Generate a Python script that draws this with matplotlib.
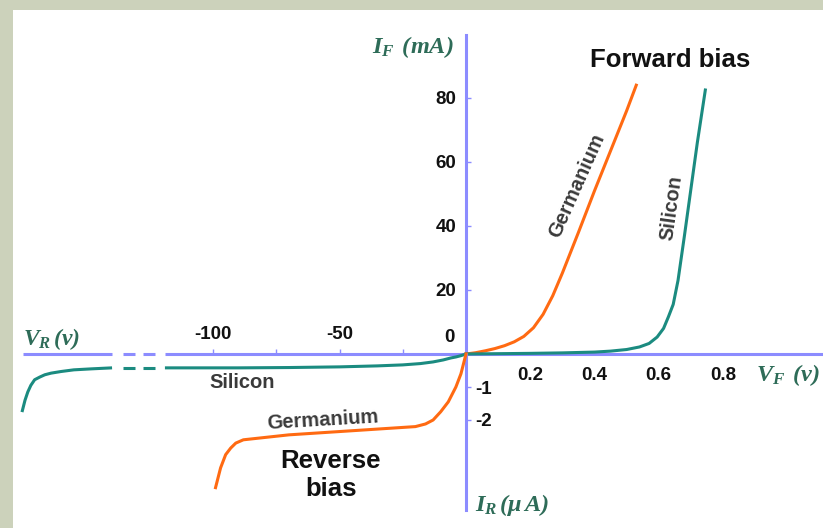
import matplotlib
matplotlib.use("Agg")
import matplotlib.pyplot as plt
from matplotlib.patches import Rectangle
import numpy as np

# ---------------- data ----------------
# Forward bias: V_F in volts, I_F in mA
fwd_ge_v = [0, 0.03, 0.06, 0.09, 0.12, 0.15, 0.18, 0.21, 0.24, 0.27, 0.30, 0.35, 0.40, 0.45, 0.50, 0.53]
fwd_ge_i = [0, 0.4, 1.0, 1.7, 2.6, 3.8, 5.5, 8.2, 12.4, 18.2, 25.3, 38, 51, 63.5, 76, 84]

fwd_si_v = [0, 0.1, 0.2, 0.3, 0.4, 0.45, 0.50, 0.54, 0.57, 0.595, 0.615, 0.63, 0.645, 0.66, 0.68, 0.70, 0.72, 0.745]
fwd_si_i = [0, 0.1, 0.2, 0.35, 0.6, 0.9, 1.4, 2.2, 3.3, 5.3, 8.0, 11.6, 15.5, 23, 37, 51.5, 66, 82.5]

# Reverse bias: V_R in volts, I_R in microamps
rev_ge_v = [0, -1, -2, -4, -7, -10, -13, -16, -20, -30, -50, -70, -88, -91, -93, -95, -97, -99]
rev_ge_i = [0, -0.3, -0.6, -1.0, -1.45, -1.75, -2.0, -2.12, -2.2, -2.25, -2.35, -2.45, -2.6, -2.7, -2.85, -3.05, -3.45, -4.05]

rev_si_v = [0, -2, -4, -6, -9, -13, -18, -25, -35, -50, -70, -90, -110, -119, -122.9, -127.7,
            -130.8, -135.6, -139.9, -148, -155, -160, -164, -166.5, -168.5, -170.5, -172, -173.2, -174.3, -175.5]
rev_si_i = [0, -0.05, -0.09, -0.12, -0.18, -0.24, -0.29, -0.33, -0.36, -0.39, -0.41, -0.42, -0.42, -0.42, -0.42, -0.42,
            -0.42, -0.42, -0.42, -0.45, -0.48, -0.53, -0.58, -0.63, -0.70, -0.78, -0.95, -1.15, -1.4, -1.76]

# broken reverse-voltage axis: drawn pieces
rev_axis_segments = [(-175.1, -139.9), (-135.6, -130.8), (-127.7, -122.9), (-119.0, 0.0)]

fwd_xticks = [0.2, 0.4, 0.6, 0.8]
fwd_xticklabels = ["0.2", "0.4", "0.6", "0.8"]
fwd_yticks = [20, 40, 60, 80]
fwd_yticklabels = ["20", "40", "60", "80"]
rev_xticks = [-100, -75, -50, -25]
rev_xticklabels = ["-100", "", "-50", ""]
rev_yticks = [-1, -2]
rev_yticklabels = ["-1", "-2"]

# ---------------- style ----------------
W, H, DPI = 823, 528, 100
SAGE = "#ccd2bb"
AXC = "#8c8cff"
TEAL = "#1b8b80"
ORANGE = "#ff6a12"
LABC = "#2e6c58"
TXT = "#3a3a3a"
LW = 2.2

plt.rcParams["font.family"] = ["Liberation Sans", "DejaVu Sans"]
plt.rcParams["font.weight"] = "bold"
plt.rcParams["mathtext.fontset"] = "custom"
plt.rcParams["mathtext.it"] = "Liberation Serif:italic:bold"
plt.rcParams["mathtext.rm"] = "Liberation Serif:italic:bold"
plt.rcParams["mathtext.bf"] = "Liberation Serif:italic:bold"

fig = plt.figure(figsize=(W / DPI, H / DPI), dpi=DPI)
fig.patch.set_facecolor("white")
fig.patches.append(Rectangle((0, 1 - 10 / H), 1, 10 / H, transform=fig.transFigure,
                             facecolor=SAGE, edgecolor="none", zorder=0))
fig.patches.append(Rectangle((0, 0), 13 / W, 1, transform=fig.transFigure,
                             facecolor=SAGE, edgecolor="none", zorder=0))

# pixel geometry of the origin and scales
OX, OY = 466, 354          # origin in pixels (y from top)
FX, FY = 321.25, 3.2       # px per V, px per mA (forward)
RX, RY = 2.53, 33.0        # px per V, px per uA (reverse)

# ---------------- forward quadrant ----------------
axf = fig.add_axes([OX / W, (H - OY) / H, (W - OX) / W, OY / H])
axf.set_facecolor("none")
axf.set_xlim(0, (W - OX) / FX)
axf.set_ylim(0, OY / FY)
for s in ("top", "right"):
    axf.spines[s].set_visible(False)
for s in ("left", "bottom"):
    axf.spines[s].set_color(AXC)
    axf.spines[s].set_linewidth(LW)
axf.spines["left"].set_bounds(0, (OY - 35) / FY)
axf.spines["bottom"].set_bounds(0, (821 - OX) / FX)

axf.plot(fwd_ge_v, fwd_ge_i, color=ORANGE, lw=LW, clip_on=False, zorder=3)
axf.plot(fwd_si_v, fwd_si_i, color=TEAL, lw=LW, clip_on=False, zorder=3)

axf.set_yticks(fwd_yticks)
axf.set_yticklabels(fwd_yticklabels)
axf.tick_params(axis="y", direction="in", length=3.6, width=1.0, color=AXC,
                labelsize=13.5, pad=7, labelcolor="#111111")
axf.set_xticks(fwd_xticks)
axf.set_xticklabels(fwd_xticklabels)
axf.tick_params(axis="x", which="major", length=0, labelsize=13.5, pad=9, labelcolor="#111111")
axf.set_xticks([0.8], minor=True)
axf.tick_params(axis="x", which="minor", direction="in", length=3.6, width=1.0, color=AXC)

# ---------------- reverse quadrant ----------------
axr = fig.add_axes([0, 0, OX / W, (H - OY) / H])
axr.set_facecolor("none")
axr.set_xlim(-OX / RX, 0)
axr.set_ylim(-(H - OY) / RY, 0)
for s in ("top", "left", "bottom"):
    axr.spines[s].set_visible(False)
axr.spines["right"].set_color(AXC)
axr.spines["right"].set_linewidth(LW)
axr.spines["right"].set_bounds(-(510 - OY) / RY, 0)

for a, b in rev_axis_segments:
    axr.plot([a, b], [0, 0], color=AXC, lw=LW, solid_capstyle="butt", clip_on=False, zorder=2)

sv = np.array(rev_si_v)
si = np.array(rev_si_i)
for a, b in rev_axis_segments:
    m = (sv >= a - 0.5) & (sv <= b + 0.01)
    axr.plot(sv[m], si[m], color=TEAL, lw=LW, solid_capstyle="butt", clip_on=False, zorder=3)
axr.plot(rev_ge_v, rev_ge_i, color=ORANGE, lw=LW, clip_on=False, zorder=3)

axr.xaxis.tick_top()
axr.set_xticks(rev_xticks)
axr.set_xticklabels(rev_xticklabels)
axr.tick_params(axis="x", direction="out", length=3.6, width=1.0, color=AXC,
                labelsize=13.5, pad=4, labelcolor="#111111")
axr.yaxis.tick_right()
axr.set_yticks(rev_yticks)
axr.set_yticklabels(rev_yticklabels)
axr.tick_params(axis="y", direction="out", length=3.6, width=1.0, color=AXC,
                labelsize=13.5, pad=3, labelcolor="#111111")


def px(x, y):
    return x / W, 1 - y / H


# zero label shared by both axes
fig.text(*px(455, 337), "0", ha="right", va="center", fontsize=13.5, color="#111111")

# axis titles
fig.text(*px(372, 53), r"$I_F\;\,(mA)$", ha="left", va="baseline", fontsize=17.5, color=LABC)
fig.text(*px(23, 345), r"$V_R\,(v)$", ha="left", va="baseline", fontsize=17, color=LABC)
fig.text(*px(756, 381), r"$V_F\;\,(v)$", ha="left", va="baseline", fontsize=17.5, color=LABC)
fig.text(*px(475, 511), r"$I_R\,(\mu\, A)$", ha="left", va="baseline", fontsize=17.5, color=LABC)

# annotations
fig.text(*px(670, 60), "Forward bias", ha="center", va="center", fontsize=18.5, color="#111111")
fig.text(*px(331, 475), "Reverse\nbias", ha="center", va="center", fontsize=18.5,
         color="#111111", linespacing=1.2)
fig.text(*px(577, 186), "Germanium", ha="center", va="center", fontsize=14.5, color=TXT,
         rotation=66, rotation_mode="anchor")
fig.text(*px(672, 208), "Silicon", ha="center", va="center", fontsize=14.5, color=TXT,
         rotation=82, rotation_mode="anchor")
fig.text(*px(242, 383), "Silicon", ha="center", va="center", fontsize=14.5, color=TXT)
fig.text(*px(323, 420), "Germanium", ha="center", va="center", fontsize=14.5, color=TXT,
         rotation=3.4, rotation_mode="anchor")

fig.savefig("out.png", dpi=DPI, facecolor="white")
